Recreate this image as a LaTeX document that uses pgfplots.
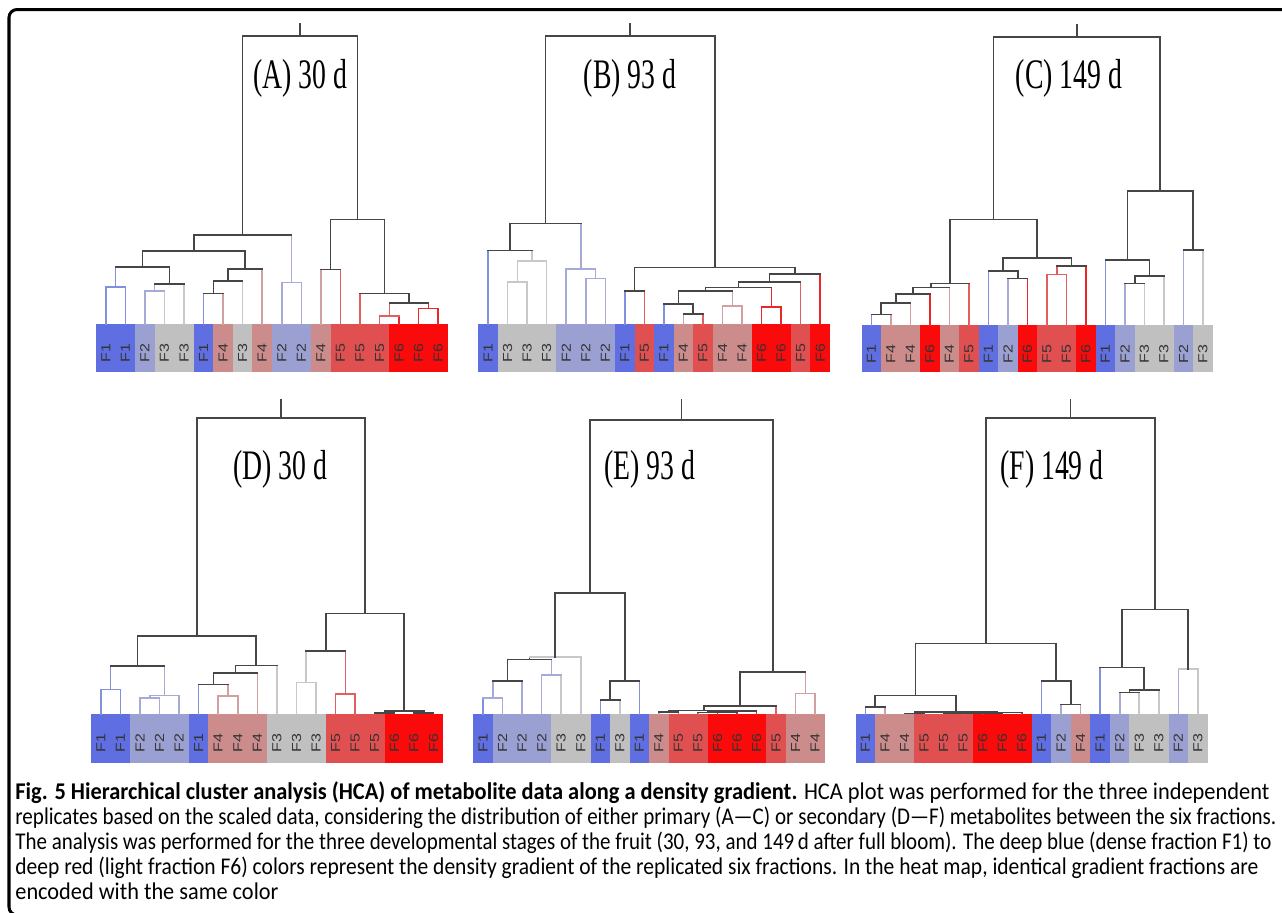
\documentclass[border=0pt]{standalone}
\usepackage{pgfplots}
\pgfplotsset{compat=1.18}
\usepackage{fontspec}
\usepackage{graphicx}
\setmainfont{Carlito}
\newfontfamily\tnr{Liberation Serif}
\newfontfamily\arialf{Liberation Sans}
\definecolor{cF1}{RGB}{95,110,225}
\definecolor{cF2}{RGB}{155,160,210}
\definecolor{cF3}{RGB}{192,192,192}
\definecolor{cF4}{RGB}{205,140,140}
\definecolor{cF5}{RGB}{225,80,80}
\definecolor{cF6}{RGB}{250,10,10}
\definecolor{L1}{RGB}{130,145,220}
\definecolor{L2}{RGB}{165,170,215}
\definecolor{L3}{RGB}{200,200,200}
\definecolor{L4}{RGB}{210,160,160}
\definecolor{L5}{RGB}{225,95,95}
\definecolor{L6}{RGB}{235,40,40}
\definecolor{DK}{RGB}{70,70,70}
\pgfplotsset{
  pan/.style={scale only axis, hide axis, xmin=-0.5, xmax=17.5, ymin=0, ymax=912,
    y dir=reverse, height=456pt, clip=false, anchor=north west},
  dl/.style={line width=0.8pt, line cap=rect}}
\tikzset{lab/.style={rotate=90, font=\arialf\fontsize{8}{9}\selectfont, text=black!80, inner sep=0pt, anchor=center}}
\newcommand{\U}[8]{%
  \addplot[dl,#6] coordinates {(#1,#2) (#1,#5)};
  \addplot[dl,#7] coordinates {(#3,#4) (#3,#5)};
  \addplot[dl,#8] coordinates {(#1,#5) (#3,#5)};}
\newcommand{\seg}[3]{\addplot[dl,DK] coordinates {(#1,#2) (#1,#3)};}
\newcommand{\cell}[5]{\addplot[fill=#5,draw=none] coordinates {(#1,#3) (#2,#3) (#2,#4) (#1,#4)};}
\newcommand{\labs}[2]{\foreach \t [count=\i from 0] in {#2}{%
  \edef\tmp{\noexpand\node[lab] at (axis cs:\i,#1) {\noexpand\scalebox{1}[0.82]{\t}};}\tmp}}
\newcommand{\ttl}[1]{{\tnr\fontsize{21}{21}\selectfont\scalebox{0.66}[1]{#1}}}
\begin{document}
\begin{tikzpicture}
\path[use as bounding box] (0pt,0pt) rectangle (641pt,-456pt);
% ---------- page axis: frame, titles, caption
\begin{axis}[scale only axis, hide axis, width=641pt, height=456pt, xmin=0, xmax=1282,
  ymin=0, ymax=912, y dir=reverse, clip=false, at={(0pt,0pt)}, anchor=north west]
\draw[line width=1.5pt, rounded corners=4pt] (axis cs:1300,9.5) -- (axis cs:9,9.5) -- (axis cs:9,915) -- (axis cs:1300,915);
\node[anchor=base, inner sep=0pt] at (axis cs:300,88) {\ttl{(A) 30 d}};
\node[anchor=base, inner sep=0pt] at (axis cs:630,88) {\ttl{(B) 93 d}};
\node[anchor=base, inner sep=0pt] at (axis cs:1069,88) {\ttl{(C) 149 d}};
\node[anchor=base, inner sep=0pt] at (axis cs:280,479) {\ttl{(D) 30 d}};
\node[anchor=base, inner sep=0pt] at (axis cs:650,479) {\ttl{(E) 93 d}};
\node[anchor=base, inner sep=0pt] at (axis cs:1052,479) {\ttl{(F) 149 d}};
\node[anchor=base west, inner sep=0pt] at (axis cs:15,799) {\fontsize{12}{12}\selectfont\resizebox{627pt}{\height}{\textbf{Fig. 5 Hierarchical cluster analysis (HCA) of metabolite data along a density gradient.} HCA plot was performed for the three independent}};
\node[anchor=base west, inner sep=0pt] at (axis cs:15,824) {\fontsize{12}{12}\selectfont\resizebox{630.5pt}{\height}{replicates based on the scaled data, considering the distribution of either primary (A\textemdash C) or secondary (D\textemdash F) metabolites between the six fractions.}};
\node[anchor=base west, inner sep=0pt] at (axis cs:15,849) {\fontsize{12}{12}\selectfont\resizebox{628pt}{\height}{The analysis was performed for the three developmental stages of the fruit (30, 93, and 149\,d after full bloom). The deep blue (dense fraction F1) to}};
\node[anchor=base west, inner sep=0pt] at (axis cs:15,874) {\fontsize{12}{12}\selectfont\resizebox{621.5pt}{\height}{deep red (light fraction F6) colors represent the density gradient of the replicated six fractions. In the heat map, identical gradient fractions are}};
\node[anchor=base west, inner sep=0pt] at (axis cs:15,899) {\fontsize{12}{12}\selectfont\resizebox{131.5pt}{\height}{encoded with the same color}};
\end{axis}
% ---------- (A)
\begin{axis}[pan, width=176pt, at={(48pt,0pt)}]
\cell{-0.5}{1.5}{324}{372}{cF1}\cell{1.5}{2.5}{324}{372}{cF2}\cell{2.5}{4.5}{324}{372}{cF3}
\cell{4.5}{5.5}{324}{372}{cF1}\cell{5.5}{6.5}{324}{372}{cF4}\cell{6.5}{7.5}{324}{372}{cF3}
\cell{7.5}{8.5}{324}{372}{cF4}\cell{8.5}{10.5}{324}{372}{cF2}\cell{10.5}{11.5}{324}{372}{cF4}
\cell{11.5}{14.5}{324}{372}{cF5}\cell{14.5}{17.5}{324}{372}{cF6}
\labs{353}{F1,F1,F2,F3,F3,F1,F4,F3,F4,F2,F2,F4,F5,F5,F5,F6,F6,F6}
\U{0}{324}{1}{324}{287}{L1}{L1}{L1}
\U{2}{324}{3}{324}{290.7}{L2}{L3}{L2}
\U{2.5}{290.7}{4}{324}{284}{L2}{L3}{DK}
\U{0.5}{287}{3.25}{284}{267}{L1}{DK}{DK}
\U{5}{324}{6}{324}{293.3}{L1}{L4}{DK}
\U{5.5}{293.3}{7}{324}{280.7}{DK}{L3}{DK}
\U{6.25}{280.7}{8}{324}{268.7}{DK}{L4}{DK}
\U{1.875}{267}{7.125}{268.7}{250.7}{DK}{DK}{DK}
\U{9}{324}{10}{324}{282.3}{L2}{L2}{L2}
\U{4.5}{250.7}{9.5}{282.3}{235}{DK}{L2}{DK}
\U{11}{324}{12}{324}{269.3}{L4}{L5}{DK}
\U{14}{324}{15}{324}{316}{L5}{L6}{L5}
\U{16}{324}{17}{324}{308.3}{L6}{L6}{L6}
\U{14.5}{316}{16.5}{308.3}{302.7}{L5}{L6}{DK}
\U{13}{324}{15.5}{302.7}{293.3}{L5}{DK}{DK}
\U{11.5}{269.3}{14.25}{293.3}{219.3}{DK}{DK}{DK}
\U{7}{235}{12.875}{219.3}{36}{DK}{DK}{DK}
\seg{9.94}{23.7}{36}
\end{axis}
% ---------- (B)
\begin{axis}[pan, width=175.85pt, at={(239.15pt,0pt)}]
\cell{-0.5}{0.5}{324}{372}{cF1}\cell{0.5}{3.5}{324}{372}{cF3}\cell{3.5}{6.5}{324}{372}{cF2}
\cell{6.5}{7.5}{324}{372}{cF1}\cell{7.5}{8.5}{324}{372}{cF5}\cell{8.5}{9.5}{324}{372}{cF1}
\cell{9.5}{10.5}{324}{372}{cF4}\cell{10.5}{11.5}{324}{372}{cF5}\cell{11.5}{13.5}{324}{372}{cF4}
\cell{13.5}{15.5}{324}{372}{cF6}\cell{15.5}{16.5}{324}{372}{cF5}\cell{16.5}{17.5}{324}{372}{cF6}
\labs{353}{F1,F3,F3,F3,F2,F2,F2,F1,F5,F1,F4,F5,F4,F4,F6,F6,F5,F6}
\U{1}{324}{2}{324}{281.7}{L3}{L3}{L3}
\U{1.5}{281.7}{3}{324}{260.7}{L3}{L3}{L3}
\U{0}{324}{2.25}{260.7}{250.3}{L1}{L3}{DK}
\U{5}{324}{6}{324}{278.3}{L2}{L2}{L2}
\U{4}{324}{5.5}{278.3}{269}{L2}{L2}{L2}
\U{1.125}{250.3}{4.75}{269}{223.3}{DK}{L2}{DK}
\U{7}{324}{8}{324}{290.7}{L1}{L5}{DK}
\U{10}{324}{11}{324}{314}{L4}{L5}{DK}
\U{9}{324}{10.5}{314}{304}{L1}{DK}{DK}
\U{12}{324}{13}{324}{306}{L4}{L4}{L4}
\U{14}{324}{15}{324}{306.7}{L6}{L6}{L6}
\U{9.75}{304}{12.5}{306}{290.7}{DK}{L4}{DK}
\U{11.125}{290.7}{14.5}{306.7}{287.3}{DK}{L6}{DK}
\U{12.8125}{287.3}{16}{324}{281.7}{DK}{L5}{DK}
\U{14.406}{281.7}{17}{324}{274}{DK}{L6}{DK}
\U{7.5}{290.7}{15.703}{274}{267.3}{DK}{DK}{DK}
\U{2.9375}{223.3}{11.6}{267.3}{36}{DK}{DK}{DK}
\seg{7.27}{23.7}{36}
\end{axis}
% ---------- (C)
\begin{axis}[pan, width=175.5pt, at={(430.85pt,0pt)}]
\cell{-0.5}{0.5}{325}{372}{cF1}\cell{0.5}{2.5}{325}{372}{cF4}\cell{2.5}{3.5}{325}{372}{cF6}
\cell{3.5}{4.5}{325}{372}{cF4}\cell{4.5}{5.5}{325}{372}{cF5}\cell{5.5}{6.5}{325}{372}{cF1}
\cell{6.5}{7.5}{325}{372}{cF2}\cell{7.5}{8.5}{325}{372}{cF6}\cell{8.5}{10.5}{325}{372}{cF5}
\cell{10.5}{11.5}{325}{372}{cF6}\cell{11.5}{12.5}{325}{372}{cF1}\cell{12.5}{13.5}{325}{372}{cF2}
\cell{13.5}{15.5}{325}{372}{cF3}\cell{15.5}{16.5}{325}{372}{cF2}\cell{16.5}{17.5}{325}{372}{cF3}
\labs{354}{F1,F4,F4,F6,F4,F5,F1,F2,F6,F5,F5,F6,F1,F2,F3,F3,F2,F3}
\U{0}{325}{1}{325}{314.3}{L1}{L4}{DK}
\U{0.5}{314.3}{2}{325}{302.7}{DK}{L4}{DK}
\U{1.25}{302.7}{3}{325}{293.7}{DK}{L6}{DK}
\U{2.125}{293.7}{4}{325}{287.3}{DK}{L4}{DK}
\U{3.0625}{287.3}{5}{325}{283.3}{DK}{L5}{DK}
\U{7}{325}{8}{325}{278.3}{L2}{L6}{DK}
\U{6}{325}{7.5}{278.3}{271}{L1}{DK}{DK}
\U{9}{325}{10}{325}{274.3}{L5}{L5}{L5}
\U{9.5}{274.3}{11}{325}{266}{L5}{L6}{DK}
\U{6.75}{271}{10.25}{266}{257.7}{DK}{DK}{DK}
\U{4.03}{283.3}{8.5}{257.7}{219.3}{DK}{DK}{DK}
\U{13}{325}{14}{325}{283.3}{L2}{L3}{DK}
\U{13.5}{283.3}{15}{325}{276}{DK}{L3}{DK}
\U{12}{325}{14.25}{276}{260}{L1}{DK}{DK}
\U{16}{325}{17}{325}{250}{L2}{L3}{DK}
\U{13.125}{260}{16.5}{250}{191}{DK}{DK}{DK}
\U{6.266}{219.3}{14.8125}{191}{37}{DK}{DK}{DK}
\seg{10.54}{24.6}{37}
\end{axis}
% ---------- (D)
\begin{axis}[pan, width=176.15pt, at={(45.5pt,0pt)}]
\cell{-0.5}{1.5}{714}{763}{cF1}\cell{1.5}{4.5}{714}{763}{cF2}\cell{4.5}{5.5}{714}{763}{cF1}
\cell{5.5}{8.5}{714}{763}{cF4}\cell{8.5}{11.5}{714}{763}{cF3}\cell{11.5}{14.5}{714}{763}{cF5}
\cell{14.5}{17.5}{714}{763}{cF6}
\labs{743}{F1,F1,F2,F2,F2,F1,F4,F4,F4,F3,F3,F3,F5,F5,F5,F6,F6,F6}
\U{0}{714}{1}{714}{689.3}{L1}{L1}{L1}
\U{2}{714}{3}{714}{697.7}{L2}{L2}{L2}
\U{2.5}{697.7}{4}{714}{695.3}{L2}{L2}{L2}
\U{0.5}{689.3}{3.25}{695.3}{666}{L1}{L2}{DK}
\U{6}{714}{7}{714}{696}{L4}{L4}{L4}
\U{5}{714}{6.5}{696}{684.3}{L1}{L4}{DK}
\U{5.75}{684.3}{8}{714}{672.7}{DK}{L4}{DK}
\U{6.875}{672.7}{9}{714}{665.3}{DK}{L3}{DK}
\U{1.875}{666}{7.94}{665.3}{636}{DK}{DK}{DK}
\U{10}{714}{11}{714}{682.3}{L3}{L3}{L3}
\U{12}{714}{13}{714}{694}{L5}{L5}{L5}
\U{10.5}{682.3}{12.5}{694}{650.7}{L3}{L5}{DK}
\U{14}{714}{15}{714}{713}{L5}{L6}{DK}
\U{16}{714}{17}{714}{712.7}{L6}{L6}{DK}
\U{14.5}{713}{16.5}{712.7}{711}{DK}{DK}{DK}
\U{11.5}{650.7}{15.5}{711}{613.3}{DK}{DK}{DK}
\U{4.906}{636}{13.5}{613.3}{418}{DK}{DK}{DK}
\seg{9.203}{400}{418}
\end{axis}
% ---------- (E)
\begin{axis}[pan, width=175.85pt, at={(236.65pt,0pt)}]
\cell{-0.5}{0.5}{714}{763}{cF1}\cell{0.5}{3.5}{714}{763}{cF2}\cell{3.5}{5.5}{714}{763}{cF3}
\cell{5.5}{6.5}{714}{763}{cF1}\cell{6.5}{7.5}{714}{763}{cF3}\cell{7.5}{8.5}{714}{763}{cF1}
\cell{8.5}{9.5}{714}{763}{cF4}\cell{9.5}{11.5}{714}{763}{cF5}\cell{11.5}{14.5}{714}{763}{cF6}
\cell{14.5}{15.5}{714}{763}{cF5}\cell{15.5}{17.5}{714}{763}{cF4}
\labs{743}{F1,F2,F2,F2,F3,F3,F1,F3,F1,F4,F5,F5,F6,F6,F6,F5,F4,F4}
\U{0}{714}{1}{714}{697.7}{L1}{L2}{L2}
\U{0.5}{697.7}{2}{714}{680.7}{L2}{L2}{DK}
\U{3}{714}{4}{714}{675}{L2}{L3}{L2}
\U{1.25}{680.7}{3.5}{675}{659.3}{DK}{L2}{DK}
\U{2.375}{659.3}{5}{714}{656.7}{DK}{L3}{L3}
\U{6}{714}{7}{714}{700}{L1}{L3}{DK}
\U{6.5}{700}{8}{714}{681}{DK}{L1}{DK}
\U{3.6875}{656.7}{7.25}{681}{592.7}{DK}{DK}{DK}
\U{9}{714}{10}{714}{711.7}{L4}{L5}{DK}
\U{11}{714}{12}{714}{712.3}{L5}{L6}{DK}
\U{11.5}{712.3}{13}{714}{711.7}{DK}{L6}{DK}
\U{12.25}{711.7}{14}{714}{711}{DK}{L6}{DK}
\U{9.5}{711.7}{13.125}{711}{710.3}{DK}{DK}{DK}
\U{11.31}{710.3}{15}{714}{705.7}{DK}{L5}{DK}
\U{16}{714}{17}{714}{693.3}{L4}{L4}{L4}
\U{13.16}{705.7}{16.5}{693.3}{671.7}{DK}{L4}{DK}
\U{5.47}{592.7}{14.83}{671.7}{420}{DK}{DK}{DK}
\seg{10.15}{400}{420}
\end{axis}
% ---------- (F)
\begin{axis}[pan, width=176pt, at={(427.85pt,0pt)}]
\cell{-0.5}{0.5}{714}{763}{cF1}\cell{0.5}{2.5}{714}{763}{cF4}\cell{2.5}{5.5}{714}{763}{cF5}
\cell{5.5}{8.5}{714}{763}{cF6}\cell{8.5}{9.5}{714}{763}{cF1}\cell{9.5}{10.5}{714}{763}{cF2}
\cell{10.5}{11.5}{714}{763}{cF4}\cell{11.5}{12.5}{714}{763}{cF1}\cell{12.5}{13.5}{714}{763}{cF2}
\cell{13.5}{15.5}{714}{763}{cF3}\cell{15.5}{16.5}{714}{763}{cF2}\cell{16.5}{17.5}{714}{763}{cF3}
\labs{743}{F1,F4,F4,F5,F5,F5,F6,F6,F6,F1,F2,F4,F1,F2,F3,F3,F2,F3}
\U{0}{714}{1}{714}{706.7}{L1}{L4}{DK}
\U{2}{714}{3}{714}{713.3}{L4}{L5}{DK}
\U{4}{714}{5}{714}{713.5}{L5}{L5}{DK}
\U{6}{714}{7}{714}{713.5}{L6}{L6}{DK}
\U{4.5}{713.5}{6.5}{713.5}{713}{DK}{DK}{DK}
\U{5.5}{713}{8}{714}{712.5}{DK}{L6}{DK}
\U{2.5}{713.3}{6.75}{712.5}{712}{DK}{DK}{DK}
\U{0.5}{706.7}{4.625}{712}{695.3}{DK}{DK}{DK}
\U{10}{714}{11}{714}{704.3}{L2}{L4}{DK}
\U{9}{714}{10.5}{704.3}{681}{L1}{DK}{DK}
\U{2.5625}{695.3}{9.75}{681}{643.3}{DK}{DK}{DK}
\U{13}{714}{14}{714}{692.3}{L2}{L3}{DK}
\U{13.5}{692.3}{15}{714}{690}{DK}{L3}{DK}
\U{12}{714}{14.25}{690}{667.3}{L1}{DK}{DK}
\U{16}{714}{17}{714}{669}{L2}{L3}{L3}
\U{13.125}{667.3}{16.5}{669}{609.3}{DK}{DK}{DK}
\U{6.156}{643.3}{14.8125}{609.3}{418}{DK}{DK}{DK}
\seg{10.48}{400}{418}
\end{axis}
\end{tikzpicture}
\end{document}
